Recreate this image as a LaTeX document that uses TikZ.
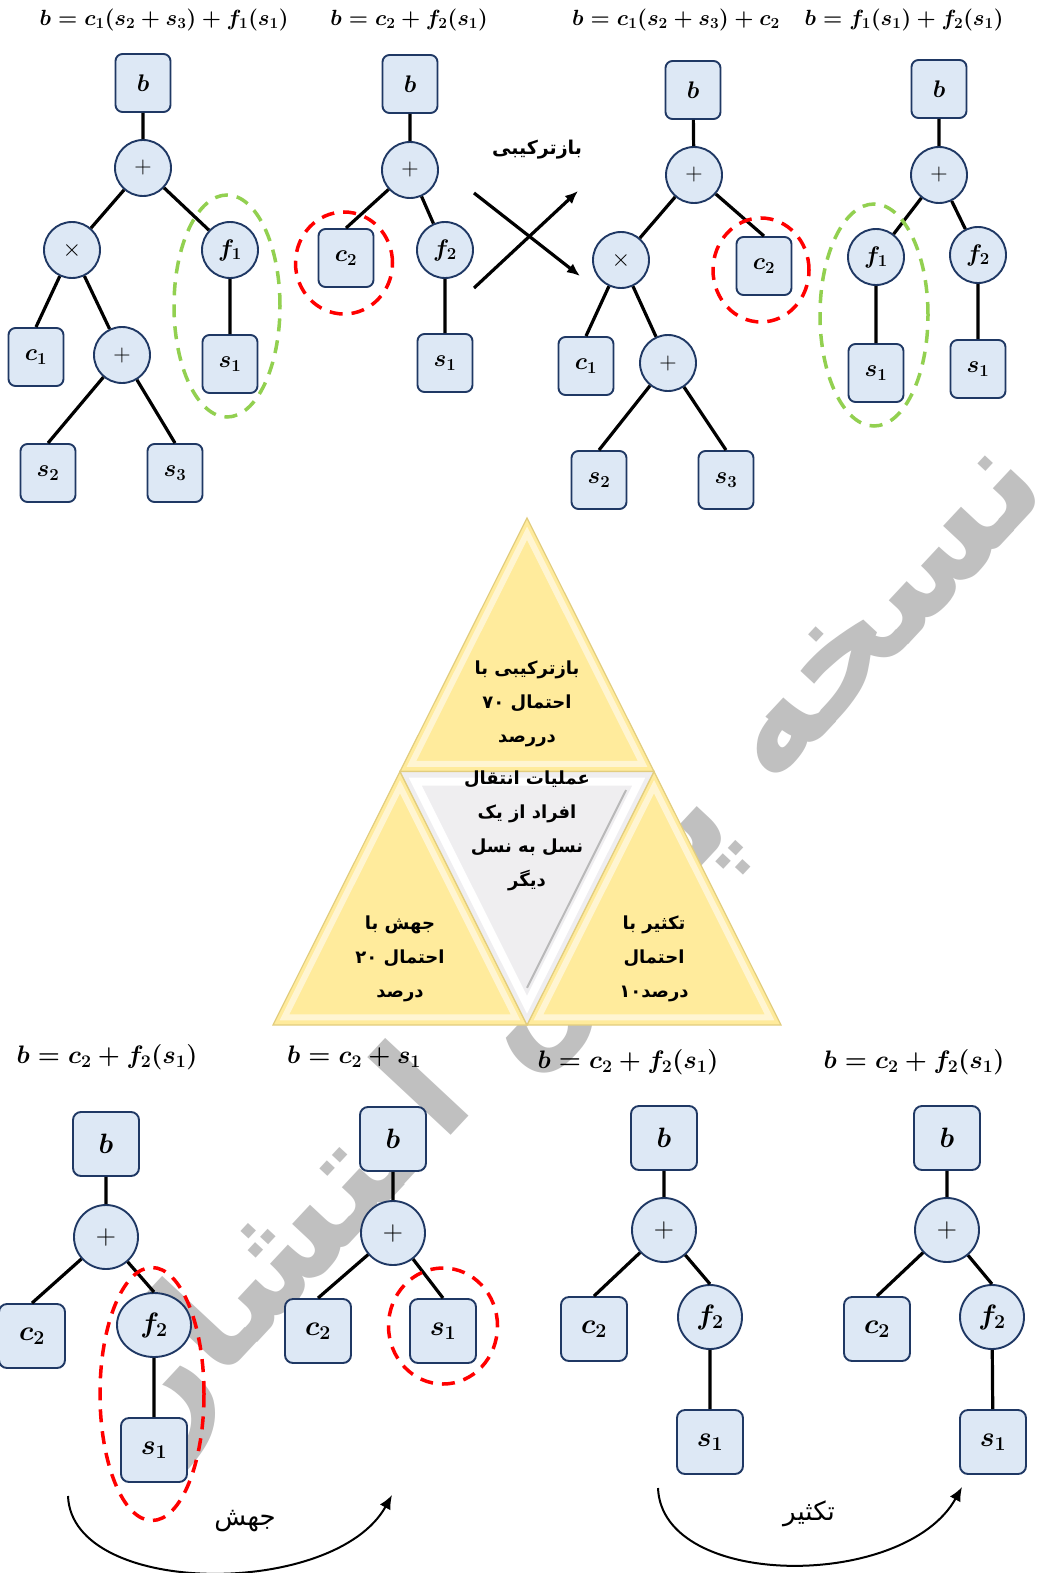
\RequirePackage{fix-cm}
\documentclass[tikz,border=0pt]{standalone}
\usepackage{fontspec}
\usepackage{amsmath,bm}
\usetikzlibrary{calc,arrows.meta,shapes.geometric}
\newfontfamily\fa[Script=Arabic]{DejaVu Sans}
\TeXXeTstate=1
\definecolor{nodefill}{HTML}{DDE8F5}
\definecolor{nodeline}{HTML}{1F3864}
\definecolor{dashgreen}{HTML}{92D050}
\definecolor{dashred}{HTML}{FF0000}
\definecolor{triyellow}{HTML}{FFEB9C}
\definecolor{triedge}{HTML}{E2CD7E}
\definecolor{trigrey}{HTML}{EFEEF0}
\definecolor{wmgrey}{HTML}{C0C0C0}

\newcommand{\fml}[1]{{\boldmath$#1$}}
\newcommand{\rl}[1]{\beginR #1\endR}
\newcommand{\ltr}[1]{\beginL #1\endL}

\tikzset{
  tnode/.style={draw=nodeline, fill=nodefill, line width=1.9, inner sep=0,
    font=\fontsize{24}{26}\selectfont},
  sbox/.style={tnode, rounded corners=7, minimum width=55, minimum height=58},
  scirc/.style={tnode, circle, minimum size=56},
  lbox/.style={tnode, rounded corners=8, minimum width=66, minimum height=64,
    font=\fontsize{28}{30}\selectfont},
  lcirc/.style={tnode, circle, minimum size=64, font=\fontsize{28}{30}\selectfont},
  lell/.style={tnode, ellipse, minimum width=74, minimum height=64,
    font=\fontsize{28}{30}\selectfont},
  link/.style={line width=3.2, black},
  grp/.style={line width=3.5, dash pattern=on 13 off 9, ellipse, inner sep=0},
  ftop/.style={font=\fontsize{22}{24}\selectfont, inner sep=0},
  fbot/.style={font=\fontsize{25.3}{28}\selectfont, inner sep=0},
  tritext/.style={font=\fa\bfseries\fontsize{18}{34}\selectfont, align=center, inner sep=0},
  arclabel/.style={font=\fa\fontsize{26}{30}\selectfont, inner sep=0},
  oparrow/.style={line width=2, black, -{Latex[length=14,width=12]}},
}

\begin{document}
\begin{tikzpicture}[x=1pt,y=-1pt]
\fill[white] (0,0) rectangle (1060,1573);
\useasboundingbox (0,0) rectangle (1060,1573);

% ---- background watermark text ----
\node[rotate=47, text=wmgrey, inner sep=0,
  font=\fa\bfseries\fontsize{150}{150}\selectfont] (wm) at (578,942) {\rl{نسخه پیش انتشار}};

% ---- genetic operators triangle ----
\coordinate (A) at (527,518);
\coordinate (L) at (273,1025);
\coordinate (R) at (781,1025);
\coordinate (ML) at (400,771.5);
\coordinate (MR) at (654,771.5);
\coordinate (MB) at (527,1025);
\foreach \p/\q/\r in {A/ML/MR, ML/L/MB, MR/MB/R}{
  \coordinate (cc) at ($0.3333*(\p)+0.3333*(\q)+0.3334*(\r)$);
  \fill[triyellow] (\p) -- (\q) -- (\r) -- cycle;
  \draw[white, opacity=.55, line width=6, line join=miter]
    ($(cc)!0.91!(\p)$) -- ($(cc)!0.91!(\q)$) -- ($(cc)!0.91!(\r)$) -- cycle;
  \draw[triedge, line width=1.2, line join=miter] (\p) -- (\q) -- (\r) -- cycle;
}
\coordinate (cm) at ($0.3333*(ML)+0.3333*(MR)+0.3334*(MB)$);
\fill[trigrey] (ML) -- (MR) -- (MB) -- cycle;
\draw[white, line width=8, line join=miter]
  ($(cm)!0.88!(ML)$) -- ($(cm)!0.88!(MR)$) -- ($(cm)!0.88!(MB)$) -- cycle;
\draw[gray!55, line width=2] ($(cm)!0.78!(MR)$) -- ($(cm)!0.78!(MB)$);
\draw[triedge, line width=1.2, line join=miter] (ML) -- (MR) -- (MB) -- cycle;

\node[tritext] (tt) at (527,704) {\rl{بازترکیبی با}\\\rl{احتمال \ltr{۷۰}}\\\rl{دررصد}};
\node[tritext] (tc) at (527,831) {\rl{عملیات انتقال}\\\rl{افراد از یک}\\\rl{نسل به نسل}\\\rl{دیگر}};
\node[tritext] (tl) at (400,959) {\rl{جهش با}\\\rl{احتمال \ltr{۲۰}}\\\rl{درصد}};
\node[tritext] (tr) at (654,959) {\rl{تکثیر با}\\\rl{احتمال}\\\rl{درصد\ltr{۱۰}}};

% ---- formulas ----
\node[ftop] (f1) at (164,20) {\fml{b = c_1(s_2+s_3)+f_1(s_1)}};
\node[ftop] (f2) at (409,20) {\fml{b = c_2+f_2(s_1)}};
\node[ftop] (f3) at (676,20) {\fml{b = c_1(s_2+s_3)+c_2}};
\node[ftop] (f4) at (904,20) {\fml{b = f_1(s_1)+f_2(s_1)}};
\node[fbot] (f5) at (107,1057) {\fml{b = c_2+f_2(s_1)}};
\node[fbot] (f6) at (354,1057) {\fml{b = c_2+s_1}};
\node[fbot] (f7) at (628,1062) {\fml{b = c_2+f_2(s_1)}};
\node[fbot] (f8) at (914,1062) {\fml{b = c_2+f_2(s_1)}};

% ---- tree 1 ----
\node[sbox]  (t1b)  at (143,83)  {\fml{b}};
\node[scirc] (t1p)  at (143,168) {$+$};
\node[scirc] (t1m)  at (72,250)  {$\times$};
\node[scirc] (t1f)  at (230,250) {\fml{f_1}};
\node[sbox]  (t1c)  at (36,357)  {\fml{c_1}};
\node[scirc] (t1q)  at (122,355) {$+$};
\node[sbox]  (t1s)  at (230,364) {\fml{s_1}};
\node[sbox]  (t1s2) at (48,473)  {\fml{s_2}};
\node[sbox]  (t1s3) at (175,473) {\fml{s_3}};
\draw[link] (t1b) -- (t1p) (t1p) -- (t1m) (t1p) -- (t1f)
  (t1m) -- (t1c.north) (t1m) -- (t1q) (t1f) -- (t1s)
  (t1q) -- (t1s2.north) (t1q) -- (t1s3.north);
\node[grp, draw=dashgreen, minimum width=106, minimum height=222] (g1) at (227,306) {};

% ---- tree 2 ----
\node[sbox]  (t2b) at (410,84)  {\fml{b}};
\node[scirc] (t2p) at (410,170) {$+$};
\node[sbox]  (t2c) at (346,258) {\fml{c_2}};
\node[scirc] (t2f) at (445,250) {\fml{f_2}};
\node[sbox]  (t2s) at (445,363) {\fml{s_1}};
\draw[link] (t2b) -- (t2p) (t2p) -- (t2c.north) (t2p) -- (t2f) (t2f) -- (t2s);
\node[grp, draw=dashred, minimum width=97, minimum height=102] (r1) at (344,263) {};

% ---- crossover arrows ----
\coordinate (x1a) at (474,193);
\coordinate (x1b) at (580,276);
\coordinate (x2a) at (474,288);
\coordinate (x2b) at (578,191);
\draw[link, -{Latex[length=13,width=11]}] (x1a) -- (x1b);
\draw[link, -{Latex[length=13,width=11]}] (x2a) -- (x2b);
\node[font=\fa\bfseries\fontsize{19}{24}\selectfont, inner sep=0] (xl) at (537,150) {\rl{بازترکیبی}};

% ---- tree 3 ----
\node[sbox]  (t3b)  at (693,90)  {\fml{b}};
\node[scirc] (t3p)  at (694,175) {$+$};
\node[scirc] (t3m)  at (621,260) {$\times$};
\node[sbox]  (t3c)  at (764,266) {\fml{c_2}};
\node[sbox]  (t3c1) at (586,366) {\fml{c_1}};
\node[scirc] (t3q)  at (668,363) {$+$};
\node[sbox]  (t3s2) at (599,480) {\fml{s_2}};
\node[sbox]  (t3s3) at (726,480) {\fml{s_3}};
\draw[link] (t3b) -- (t3p) (t3p) -- (t3m) (t3p) -- (t3c.north)
  (t3m) -- (t3c1.north) (t3m) -- (t3q)
  (t3q) -- (t3s2.north) (t3q) -- (t3s3.north);
\node[grp, draw=dashred, minimum width=96, minimum height=104] (r2) at (761,270) {};

% ---- tree 4 ----
\node[sbox]  (t4b)  at (939,89)  {\fml{b}};
\node[scirc] (t4p)  at (939,175) {$+$};
\node[scirc] (t4f1) at (876,257) {\fml{f_1}};
\node[scirc] (t4f2) at (978,255) {\fml{f_2}};
\node[sbox]  (t4s1) at (876,373) {\fml{s_1}};
\node[sbox]  (t4s2) at (978,369) {\fml{s_1}};
\draw[link] (t4b) -- (t4p) (t4p) -- (t4f1) (t4p) -- (t4f2)
  (t4f1) -- (t4s1) (t4f2) -- (t4s2);
\node[grp, draw=dashgreen, minimum width=108, minimum height=222] (g2) at (874,315) {};

% ---- tree 5 (mutation, before) ----
\node[lbox]  (t5b) at (106,1144) {\fml{b}};
\node[lcirc] (t5p) at (106,1237) {$+$};
\node[lbox]  (t5c) at (32,1336)  {\fml{c_2}};
\node[lell]  (t5f) at (154,1325) {\fml{f_2}};
\node[lbox]  (t5s) at (154,1450) {\fml{s_1}};
\draw[link] (t5b) -- (t5p) (t5p) -- (t5c.north) (t5p) -- (t5f.north) (t5f) -- (t5s);
\node[grp, draw=dashred, minimum width=104, minimum height=253] (r3) at (152,1394) {};

% ---- tree 6 (mutation, after) ----
\node[lbox]  (t6b) at (393,1139) {\fml{b}};
\node[lcirc] (t6p) at (393,1233) {$+$};
\node[lbox]  (t6c) at (318,1331) {\fml{c_2}};
\node[lbox]  (t6s) at (443,1331) {\fml{s_1}};
\draw[link] (t6b) -- (t6p) (t6p) -- (t6c.north) (t6p) -- (t6s.north);
\node[grp, draw=dashred, minimum width=109, minimum height=116] (r4) at (443,1326) {};

% ---- tree 7 (reproduction, before) ----
\node[lbox]  (t7b) at (664,1138) {\fml{b}};
\node[lcirc] (t7p) at (664,1230) {$+$};
\node[lbox]  (t7c) at (594,1329) {\fml{c_2}};
\node[lcirc] (t7f) at (710,1317) {\fml{f_2}};
\node[lbox]  (t7s) at (710,1442) {\fml{s_1}};
\draw[link] (t7b) -- (t7p) (t7p) -- (t7c.north) (t7p) -- (t7f.north) (t7f) -- (t7s);

% ---- tree 8 (reproduction, after) ----
\node[lbox]  (t8b) at (947,1138) {\fml{b}};
\node[lcirc] (t8p) at (947,1230) {$+$};
\node[lbox]  (t8c) at (877,1329) {\fml{c_2}};
\node[lcirc] (t8f) at (992,1317) {\fml{f_2}};
\node[lbox]  (t8s) at (993,1442) {\fml{s_1}};
\draw[link] (t8b) -- (t8p) (t8p) -- (t8c.north) (t8p) -- (t8f.north) (t8f) -- (t8s);

% ---- curved operator arrows ----
\coordinate (m1) at (68,1496);
\coordinate (m2) at (392,1495);
\draw[oparrow] (m1) .. controls (72,1598) and (335,1598) .. (m2);
\node[arclabel] (ml) at (245,1521) {\rl{جهش}};
\coordinate (p1) at (658,1488);
\coordinate (p2) at (962,1487);
\draw[oparrow] (p1) .. controls (662,1590) and (905,1590) .. (p2);
\node[arclabel] (pl) at (809,1514) {\rl{تکثیر}};
\end{tikzpicture}
\end{document}
